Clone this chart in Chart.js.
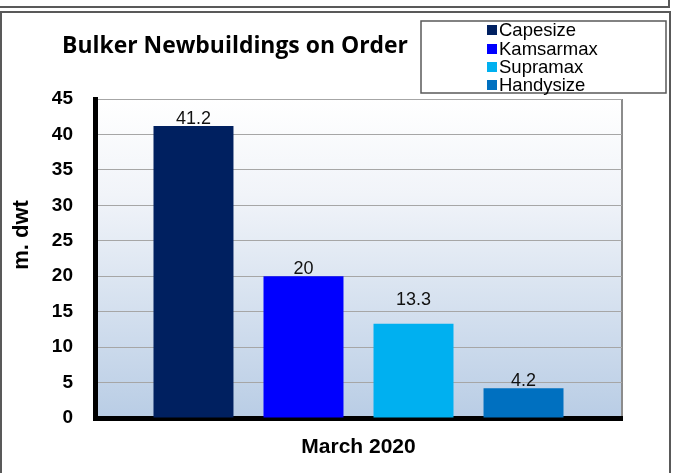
<!DOCTYPE html>
<html>
<head>
<meta charset="utf-8">
<title>Bulker Newbuildings on Order</title>
<script src="https://cdn.jsdelivr.net/npm/chart.js@4.4.0/dist/chart.umd.min.js"></script>
<style>
  html, body { margin: 0; padding: 0; background: #fff; }
  canvas { display: block; }
</style>
</head>
<body>
<canvas id="barChart" width="674" height="473"></canvas>
<script>
// chart data
const categories = ['March 2020'];
const seriesNames = ['Capesize', 'Kamsarmax', 'Supramax', 'Handysize'];
const seriesValues = [41.2, 20, 13.3, 4.2];   // m. dwt on order
const yMin = 0, yMax = 45, yStep = 5;

const seriesColors = ['#002060', '#0000ff', '#00b0f0', '#0070c0'];
const labelGaps = [2, 2, 19, 2];   // px between bar top and its value label

// white frame lines + gradient plot background
const backdrop = {
    id: 'backdrop',
    beforeDraw(chart) {
        const {ctx, chartArea: a} = chart;
        ctx.save();
        ctx.fillStyle = '#fff';
        ctx.fillRect(0, 0, chart.width, chart.height);

        ctx.strokeStyle = '#595959';
        ctx.lineWidth = 2;
        ctx.beginPath();            // bottom of the box above
        ctx.moveTo(0, 7); ctx.lineTo(669, 7); ctx.lineTo(669, 0);
        ctx.stroke();
        ctx.beginPath();            // this chart's box
        ctx.moveTo(1, 480); ctx.lineTo(1, 12); ctx.lineTo(670, 12); ctx.lineTo(670, 480);
        ctx.stroke();

        const g = ctx.createLinearGradient(0, a.top, 0, a.bottom);
        g.addColorStop(0, '#ffffff');
        g.addColorStop(0.3, '#f1f4f9');
        g.addColorStop(1, '#b9cde5');
        ctx.fillStyle = g;
        ctx.fillRect(a.left, a.top, a.right - a.left, a.bottom - a.top);
        ctx.restore();
    }
};

// value labels on top of the bars
const valueLabels = {
    id: 'valueLabels',
    afterDatasetsDraw(chart) {
        const ctx = chart.ctx;
        ctx.save();
        ctx.font = '18px "Liberation Sans", Arial, sans-serif';
        ctx.fillStyle = '#111';
        ctx.textAlign = 'center';
        ctx.textBaseline = 'alphabetic';
        chart.data.datasets.forEach((ds, i) => {
            chart.getDatasetMeta(i).data.forEach((bar, j) => {
                ctx.fillText(String(ds.data[j]), bar.x, bar.y - labelGaps[i]);
            });
        });
        ctx.restore();
    }
};

// title, boxed legend and y-axis title
const header = {
    id: 'header',
    afterDraw(chart) {
        const ctx = chart.ctx;
        ctx.save();
        ctx.fillStyle = '#000';
        ctx.font = 'bold 23px "Open Sans", sans-serif';
        ctx.textAlign = 'center';
        ctx.textBaseline = 'alphabetic';
        ctx.fillText('Bulker Newbuildings on Order', 235, 53, 346);

        // legend box
        ctx.strokeStyle = '#595959';
        ctx.lineWidth = 1.5;
        ctx.strokeRect(421, 21, 245, 72);
        ctx.font = '18.5px "Liberation Sans", Arial, sans-serif';
        ctx.textAlign = 'left';
        ctx.textBaseline = 'middle';
        const rows = [30, 49, 67, 85];
        chart.data.datasets.forEach((ds, i) => {
            ctx.fillStyle = ds.backgroundColor;
            ctx.fillRect(487, rows[i] - 5, 10, 10);
            ctx.fillStyle = '#000';
            ctx.fillText(ds.label, 499, rows[i] + 1);
        });

        // y axis title
        ctx.translate(28, 235);
        ctx.rotate(-Math.PI / 2);
        ctx.font = 'bold 22px "Liberation Sans", Arial, sans-serif';
        ctx.textAlign = 'center';
        ctx.textBaseline = 'alphabetic';
        ctx.fillText('m. dwt', 0, 0);
        ctx.restore();
    }
};

const myChart = new Chart(document.getElementById('barChart'), {
    type: 'bar',
    data: {
        labels: categories,
        datasets: seriesNames.map((name, i) => ({
            label: name,
            data: [seriesValues[i]],
            backgroundColor: seriesColors[i],
            borderWidth: 0,
            categoryPercentage: 0.835,
            barPercentage: 0.727
        }))
    },
    options: {
        responsive: false,
        animation: false,
        layout: { padding: { left: 0, top: 99, right: 52, bottom: 0 } },
        scales: {
            x: {
                afterFit: s => { s.height = 55; },
                grid: { display: true, color: '#8c8c8c', lineWidth: 2, drawTicks: false },
                border: { display: true, color: '#000', width: 5 },
                ticks: {
                    padding: 17,
                    color: '#000',
                    font: { family: '"Liberation Sans", Arial, sans-serif', size: 21, weight: 'bold' }
                }
            },
            y: {
                min: yMin,
                max: yMax,
                afterFit: s => { s.width = 95; },
                grid: { color: '#a6a6a6', lineWidth: 1, drawTicks: false },
                border: { display: true, color: '#000', width: 5 },
                ticks: {
                    stepSize: yStep,
                    padding: 22,
                    color: '#000',
                    font: { family: '"Liberation Sans", Arial, sans-serif', size: 19, weight: 'bold' }
                }
            }
        },
        plugins: {
            legend: { display: false },
            title: { display: false },
            tooltip: { enabled: false }
        }
    },
    plugins: [backdrop, valueLabels, header]
});
</script>
</body>
</html>
